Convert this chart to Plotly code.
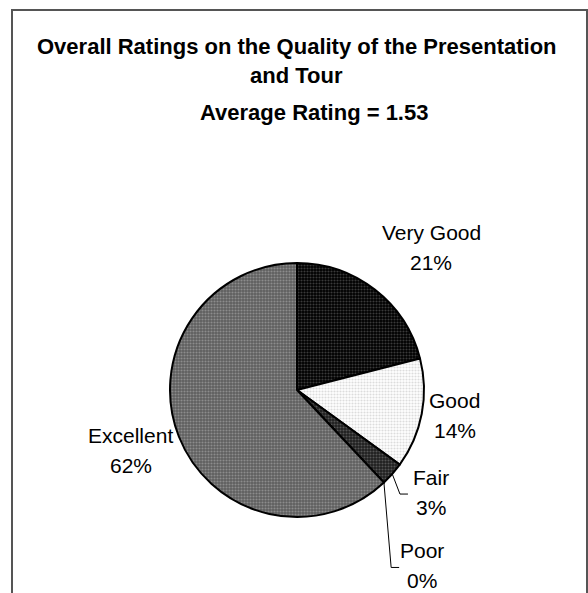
import math
import plotly.graph_objects as go

# ---- data ----
categories = ["Very Good", "Good", "Fair", "Poor", "Excellent"]
percents = [21, 14, 3, 0, 62]
title_lines = ["Overall Ratings on the Quality of the Presentation", "and Tour"]
subtitle = "Average Rating = 1.53"

# ---- layout / style ----
W, H = 588, 593
CX, CY, R = 297, 390, 127          # pie centre and radius in pixels
FONT = "Liberation Sans, Arial, sans-serif"

bg_colors = ["#000000", "#ffffff", "#1e1e1e", "#ffffff", "#5e5e5e"]
fg_colors = ["#3a3a3a", "#dcdcdc", "#555555", "#dcdcdc", "#8c8c8c"]

# label placement (radial factor, angle tweak in degrees)
label_dist = [1.543, 1.26, 1.326, 1.697, 1.391]
label_dang = [5.5, -1.6, -4.1, 7.7, 1.6]
leader = [False, False, True, True, False]


def px(x):
    return x / W


def py(y):
    return 1 - y / H


fig = go.Figure(go.Pie(
    labels=categories,
    values=percents,
    sort=False,
    direction="clockwise",
    rotation=0,
    textinfo="none",
    hoverinfo="label+percent",
    showlegend=False,
    marker=dict(
        colors=bg_colors,
        line=dict(color="#000000", width=2),
        pattern=dict(shape=".", bgcolor=bg_colors, fgcolor=fg_colors,
                     size=3, solidity=0.4, fillmode="replace"),
    ),
    domain=dict(x=[px(CX - R), px(CX + R)], y=[py(CY + R), py(CY - R)]),
))

annotations = []
shapes = []

# titles
title_specs = [(title_lines[0], 297, 47, 22),
               (title_lines[1], 297, 76, 22),
               (subtitle, 314, 112, 22)]
for txt, tx, ty, fs in title_specs:
    annotations.append(dict(text="<b>" + txt + "</b>", x=px(tx), y=py(ty),
                            xref="paper", yref="paper", showarrow=False,
                            xanchor="center", yanchor="middle",
                            font=dict(family=FONT, size=fs, color="#000")))

total = sum(percents)
cum = 0
for i, (cat, v) in enumerate(zip(categories, percents)):
    mid = (cum + v / 2) / total * 360.0
    cum += v
    ang = math.radians(mid + label_dang[i])
    d = label_dist[i] * R
    lx = CX + d * math.sin(ang)
    ly = CY - d * math.cos(ang)
    pct = round(v / total * 100)
    for txt, shift in ((cat, 15), (f"{pct}%", -15)):
        annotations.append(dict(text=txt, x=px(lx), y=py(ly), yshift=shift,
                                xref="paper", yref="paper", showarrow=False,
                                xanchor="center", yanchor="middle",
                                font=dict(family=FONT, size=21, color="#000")))
    if leader[i]:
        m = math.radians(mid)
        ex = CX + R * math.sin(m)
        ey = CY - R * math.cos(m)
        kx = lx - 31
        ky = ly + 2
        tx = lx - 23
        path = f"M {px(ex)},{py(ey)} L {px(kx)},{py(ky)} L {px(tx)},{py(ky)}"
        shapes.append(dict(type="path", path=path, xref="paper", yref="paper",
                           line=dict(color="#000", width=1)))

# outer frame (bottom edge runs off the picture)
shapes.append(dict(type="rect", xref="paper", yref="paper",
                   x0=px(12), x1=px(587), y0=-0.1, y1=py(10),
                   line=dict(color="#555555", width=2)))

fig.update_layout(
    width=W, height=H,
    margin=dict(l=0, r=0, t=0, b=0),
    paper_bgcolor="#ffffff",
    plot_bgcolor="#ffffff",
    annotations=annotations,
    shapes=shapes,
    font=dict(family=FONT),
)

fig.write_html("out.html",
               config={"displayModeBar": False},
               post_script="document.body.style.margin='0';"
                           "document.body.style.overflow='hidden';")
